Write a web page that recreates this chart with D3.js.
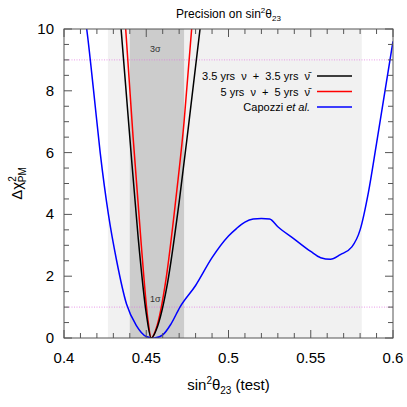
<!DOCTYPE html><html><head><script src="https://cdn.jsdelivr.net/npm/d3@7"></script>
<style>body{margin:0;background:#fff}text{font-family:"Liberation Sans",Arial,sans-serif;white-space:pre}</style></head><body>
<svg id="c" width="407" height="407"></svg>
<script>
const black=[[0.4347,10],[0.44,6.5],[0.445,3.3],[0.45,0.8],[0.453,0],[0.457,0.4],[0.463,1.8],[0.47,4.4],[0.476,7],[0.4827,10]];
const red=[[0.4375,10],[0.442,6.5],[0.447,3],[0.451,0.6],[0.453,0],[0.456,0.3],[0.462,1.9],[0.468,4.5],[0.473,7],[0.4776,10]];
const blue=[[0.4125,10.5],[0.4138,10],[0.418,8],[0.422,6],[0.427,4],[0.432,2.5],[0.438,1.1],[0.444,0.4],[0.45,0.05],[0.455,0],[0.46,0.1],[0.465,0.45],[0.4705,1],[0.48,1.7],[0.49,2.6],[0.5,3.3],[0.505,3.55],[0.51,3.75],[0.515,3.85],[0.52,3.87],[0.525,3.85],[0.53,3.6],[0.54,3.2],[0.55,2.8],[0.556,2.6],[0.562,2.55],[0.568,2.7],[0.575,2.95],[0.58,3.5],[0.585,4.7],[0.59,6.3],[0.6,9.6]];
const xTicks=[0.4,0.45,0.5,0.55,0.6], yTicks=[0,2,4,6,8,10];
const lightBand=[0.4267,0.581], darkBand=[0.4400,0.4730];
const legend=[["3.5 yrs  ν  +  3.5 yrs  ν̄","#000"],["5 yrs  ν  +  5 yrs  ν̄","#f00"],["Capozzi et al.","#00f"]];
const svg=d3.select("#c"), L=64,R=393,T=29,B=338;
const x=d3.scaleLinear([0.4,0.6],[L,R]), y=d3.scaleLinear([0,10],[B,T]);
svg.append("defs").append("clipPath").attr("id","cl").append("rect").attr("x",L).attr("y",T).attr("width",R-L).attr("height",B-T);
svg.append("rect").attr("x",x(lightBand[0])).attr("y",T).attr("width",x(lightBand[1])-x(lightBand[0])).attr("height",B-T).attr("fill","#f1f1f1");
svg.append("rect").attr("x",x(darkBand[0])).attr("y",T).attr("width",x(darkBand[1])-x(darkBand[0])).attr("height",B-T).attr("fill","#cccccc");
[1,9].forEach(v=>svg.append("line").attr("x1",L).attr("x2",R).attr("y1",y(v)).attr("y2",y(v)).attr("stroke","#e070e0").attr("stroke-width",0.7).attr("stroke-dasharray","1,1.5"));
svg.append("text").attr("x",x(0.4555)).attr("y",y(9.25)).attr("font-size",9).attr("text-anchor","middle").attr("fill","#333").text("3σ");
svg.append("text").attr("x",x(0.4555)).attr("y",y(1.15)).attr("font-size",9).attr("text-anchor","middle").attr("fill","#333").text("1σ");
const g=svg.append("g").attr("clip-path","url(#cl)");
const ln=d3.line().x(d=>x(d[0])).y(d=>y(d[1])).curve(d3.curveMonotoneX);
[[blue,"#00f"],[red,"#f00"],[black,"#000"]].forEach(([d,c])=>g.append("path").attr("d",ln(d)).attr("fill","none").attr("stroke",c).attr("stroke-width",1.5));
const ax=svg.append("g").attr("stroke","#555");
ax.append("rect").attr("x",L).attr("y",T).attr("width",R-L).attr("height",B-T).attr("fill","none").attr("stroke-width",1);
d3.range(0,21).forEach(i=>{const v=0.4+i*0.01, px=x(v), len=i%5==0?8:5;
 ax.append("line").attr("x1",px).attr("x2",px).attr("y1",B).attr("y2",B-len);
 ax.append("line").attr("x1",px).attr("x2",px).attr("y1",T).attr("y2",T+len);});
d3.range(0,21).forEach(i=>{const v=i*0.5, py=y(v), len=i%4==0?8:5;
 ax.append("line").attr("x1",L).attr("x2",L+len).attr("y1",py).attr("y2",py);
 ax.append("line").attr("x1",R).attr("x2",R-len).attr("y1",py).attr("y2",py);});
xTicks.forEach(v=>svg.append("text").attr("x",x(v)).attr("y",B+25).attr("text-anchor","middle").attr("font-size",15).text(v));
yTicks.forEach(v=>svg.append("text").attr("x",L-10).attr("y",y(v)+5).attr("text-anchor","end").attr("font-size",15).text(v));
const xl=svg.append("text").attr("x",(L+R)/2).attr("y",B+52).attr("text-anchor","middle").attr("font-size",15);
xl.append("tspan").text("sin");xl.append("tspan").attr("dy",-6).attr("font-size",10).text("2");
xl.append("tspan").attr("dy",6).text("θ");xl.append("tspan").attr("dy",4).attr("font-size",10).text("23");
xl.append("tspan").attr("dy",-4).text(" (test)");
const yl=svg.append("text").attr("transform",`translate(22,${(T+B)/2}) rotate(-90)`).attr("text-anchor","middle").attr("font-size",15);
yl.append("tspan").text("Δχ");yl.append("tspan").attr("dy",-6).attr("font-size",10).text("2");
yl.append("tspan").attr("dx",-6).attr("dy",10).attr("font-size",10).text("PM");
const tt=svg.append("text").attr("x",(L+R)/2).attr("y",18).attr("text-anchor","middle").attr("font-size",12);
tt.append("tspan").text("Precision on sin");tt.append("tspan").attr("dy",-5).attr("font-size",8).text("2");
tt.append("tspan").attr("dy",5).text("θ");tt.append("tspan").attr("dy",3).attr("font-size",8).text("23");
legend.forEach(([t,c],i)=>{const yy=76+i*15.5;
 const tx=svg.append("text").attr("x",310).attr("y",yy+4).attr("text-anchor","end").attr("font-size",11);
 if(i==2){tx.append("tspan").text("Capozzi ");tx.append("tspan").attr("font-style","italic").text("et al.");}else tx.text(t);
 svg.append("line").attr("x1",317).attr("x2",352).attr("y1",yy).attr("y2",yy).attr("stroke",c).attr("stroke-width",1.5);});
</script></body></html>
